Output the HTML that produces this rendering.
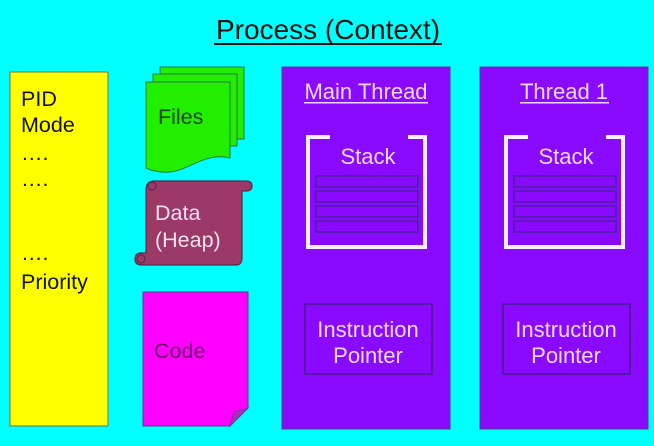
<!DOCTYPE html>
<html><head><style>
html,body{margin:0;padding:0;background:#00ffff;}
svg{display:block;font-family:"Liberation Sans",Arial,sans-serif;}
</style></head><body>
<svg width="654" height="446" viewBox="0 0 654 446">
<rect width="654" height="446" fill="#00ffff"/>
<text x="328" y="39" font-size="28" text-anchor="middle" fill="#111">Process (Context)</text>
<rect x="214" y="43" width="228" height="2" fill="#111"/>
<rect x="10" y="72" width="98" height="354" fill="#ffff00" stroke="#667744" stroke-width="1"/>
<g font-size="21.5" fill="#111">
<text x="21" y="106">PID</text>
<text x="21" y="132">Mode</text>
<text x="21" y="160">….</text>
<text x="21" y="186">….</text>
<text x="21" y="260">….</text>
<text x="21" y="289">Priority</text>
</g>
<g fill="#22ee00" stroke="#227744" stroke-width="1">
<rect x="160" y="67" width="84" height="72"/>
<rect x="153" y="74" width="84" height="72"/>
<path d="M146 82 H230 V158 C205 152 190 170 170 172 C160 173 150 170 146 168 Z"/>
</g>
<text x="158" y="124" font-size="21.5" fill="#114400">Files</text>
<g fill="#9b3a66" stroke="#5a2a50" stroke-width="1.2">
<path d="M146 190 Q146 181 154 181 H246 Q252 181 252 186 Q252 191 246 191 H242 V258 Q242 265 236 265 H141 Q135 265 135 259 Q135 253 141 253 H146 Z"/>
<circle cx="152" cy="186" r="4"/>
<circle cx="141" cy="259" r="4"/>
</g>
<text x="155" y="220" font-size="21.5" fill="#f5e0f0">Data</text>
<text x="155" y="247" font-size="21.5" fill="#f5e0f0">(Heap)</text>
<path d="M143 292 H248 V408 L230 426 H143 Z" fill="#ff00ff" stroke="#5a3a90" stroke-width="1"/>
<path d="M230 426 L234 412 L248 408 Z" fill="#b02ac0" stroke="#5a3a90" stroke-width="0.8"/>
<text x="154" y="358" font-size="21.5" fill="#660066">Code</text>
<g id="t">
<rect x="282" y="67" width="168" height="362" fill="#8a0aff" stroke="#5a3a99" stroke-width="1"/>
<path d="M330 137 H308 V247 H425 V137 H408" fill="none" stroke="#f8f0ff" stroke-width="4"/>
<g fill="#8a0aff" stroke="#5a1ab8" stroke-width="2">
<rect x="316" y="176" width="102" height="11"/>
<rect x="316" y="191" width="102" height="11"/>
<rect x="316" y="206" width="102" height="11"/>
<rect x="316" y="221" width="102" height="11"/>
</g>
<text x="368" y="164" font-size="22" fill="#f0d8ff" text-anchor="middle">Stack</text>
<rect x="305" y="304" width="127" height="70" fill="none" stroke="#4a1a88" stroke-width="1.5"/>
<text x="368" y="337" font-size="22" fill="#f0d8ff" text-anchor="middle">Instruction</text>
<text x="368" y="363" font-size="22" fill="#f0d8ff" text-anchor="middle">Pointer</text>
</g>
<use href="#t" transform="translate(198,0)"/>
<text x="366" y="99" font-size="22" fill="#f0d8ff" text-anchor="middle">Main Thread</text>
<rect x="304" y="102" width="124" height="1.5" fill="#f0d8ff"/>
<text x="564" y="99" font-size="22" fill="#f0d8ff" text-anchor="middle">Thread 1</text>
<rect x="520" y="102" width="89" height="1.5" fill="#f0d8ff"/>
</svg>
</body></html>
